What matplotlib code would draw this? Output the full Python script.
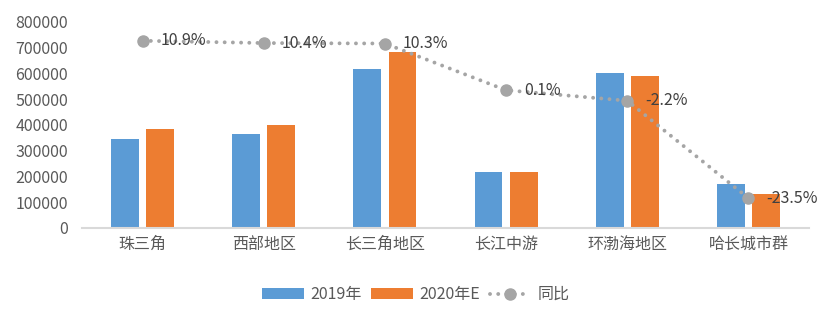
import numpy as np
import matplotlib
matplotlib.use("Agg")
import matplotlib.pyplot as plt
from matplotlib.lines import Line2D
from matplotlib.patches import Patch

plt.rcParams['font.family'] = ['Noto Sans CJK SC', 'DejaVu Sans']

# -----------------------------
# Data
# -----------------------------
regions = ["珠三角", "西部地区", "长三角地区", "长江中游", "环渤海地区", "哈长城市群"]
values_2019 = [346000, 366000, 619000, 218000, 603000, 172000]
values_2020 = [385000, 401000, 682000, 218000, 591000, 133000]
yoy_pct = [10.9, 10.4, 10.3, 0.1, -2.2, -23.5]
series_names = ["2019年", "2020年E", "同比"]

blue = "#5B9BD5"
orange = "#ED7D31"
gray = "#A5A5A5"
text_gray = "#595959"
dots = (0, (0.01, 2.1))

fig = plt.figure(figsize=(8.32, 3.22), dpi=100)
ax = fig.add_axes([0.0986, 0.292, 0.8738, 0.6397])

x = np.arange(len(regions))
width = 0.23
offset = 0.145

ax.bar(x - offset, values_2019, width, color=blue)
ax.bar(x + offset, values_2020, width, color=orange)

ax.set_xlim(-0.5, len(regions) - 0.5)
ax.set_ylim(0, 800000)
ax.set_yticks(np.arange(0, 800001, 100000))
ax.set_xticks(x)
ax.set_xticklabels(regions, fontsize=11.5, color=text_gray)
ax.tick_params(axis='y', labelsize=11.5, labelcolor=text_gray, length=0, pad=10)
ax.tick_params(axis='x', length=0, pad=6)

for side in ["top", "right", "left"]:
    ax.spines[side].set_visible(False)
ax.spines["bottom"].set_color("#D9D9D9")
ax.spines["bottom"].set_linewidth(1.5)

# secondary axis for the growth line (hidden)
ax2 = ax.twinx()
ax2.set_ylim(-30, 15)
ax2.axis("off")
ax2.plot(x, yoy_pct, color=gray, linestyle=dots, linewidth=2.8,
         dash_capstyle="round", marker="o", markersize=8, zorder=3)
for xi, v in zip(x, yoy_pct):
    ax2.annotate(f"{v}%", (xi, v), xytext=(13, 0), textcoords="offset points",
                 ha="left", va="center", fontsize=11.5, color="#404040")

# legend
handles = [
    Patch(facecolor=blue, label=series_names[0]),
    Patch(facecolor=orange, label=series_names[1]),
    Line2D([0], [0], color=gray, linestyle=dots, linewidth=2.8,
           dash_capstyle="round", marker="o", markersize=8, label=series_names[2]),
]
fig.legend(handles=handles, loc="center", bbox_to_anchor=(0.5, 0.085), ncol=3,
           frameon=False, fontsize=11.5, labelcolor=text_gray,
           handlelength=2.6, handleheight=0.7, handletextpad=0.4, columnspacing=0.6)

fig.savefig("out.png", dpi=100)
